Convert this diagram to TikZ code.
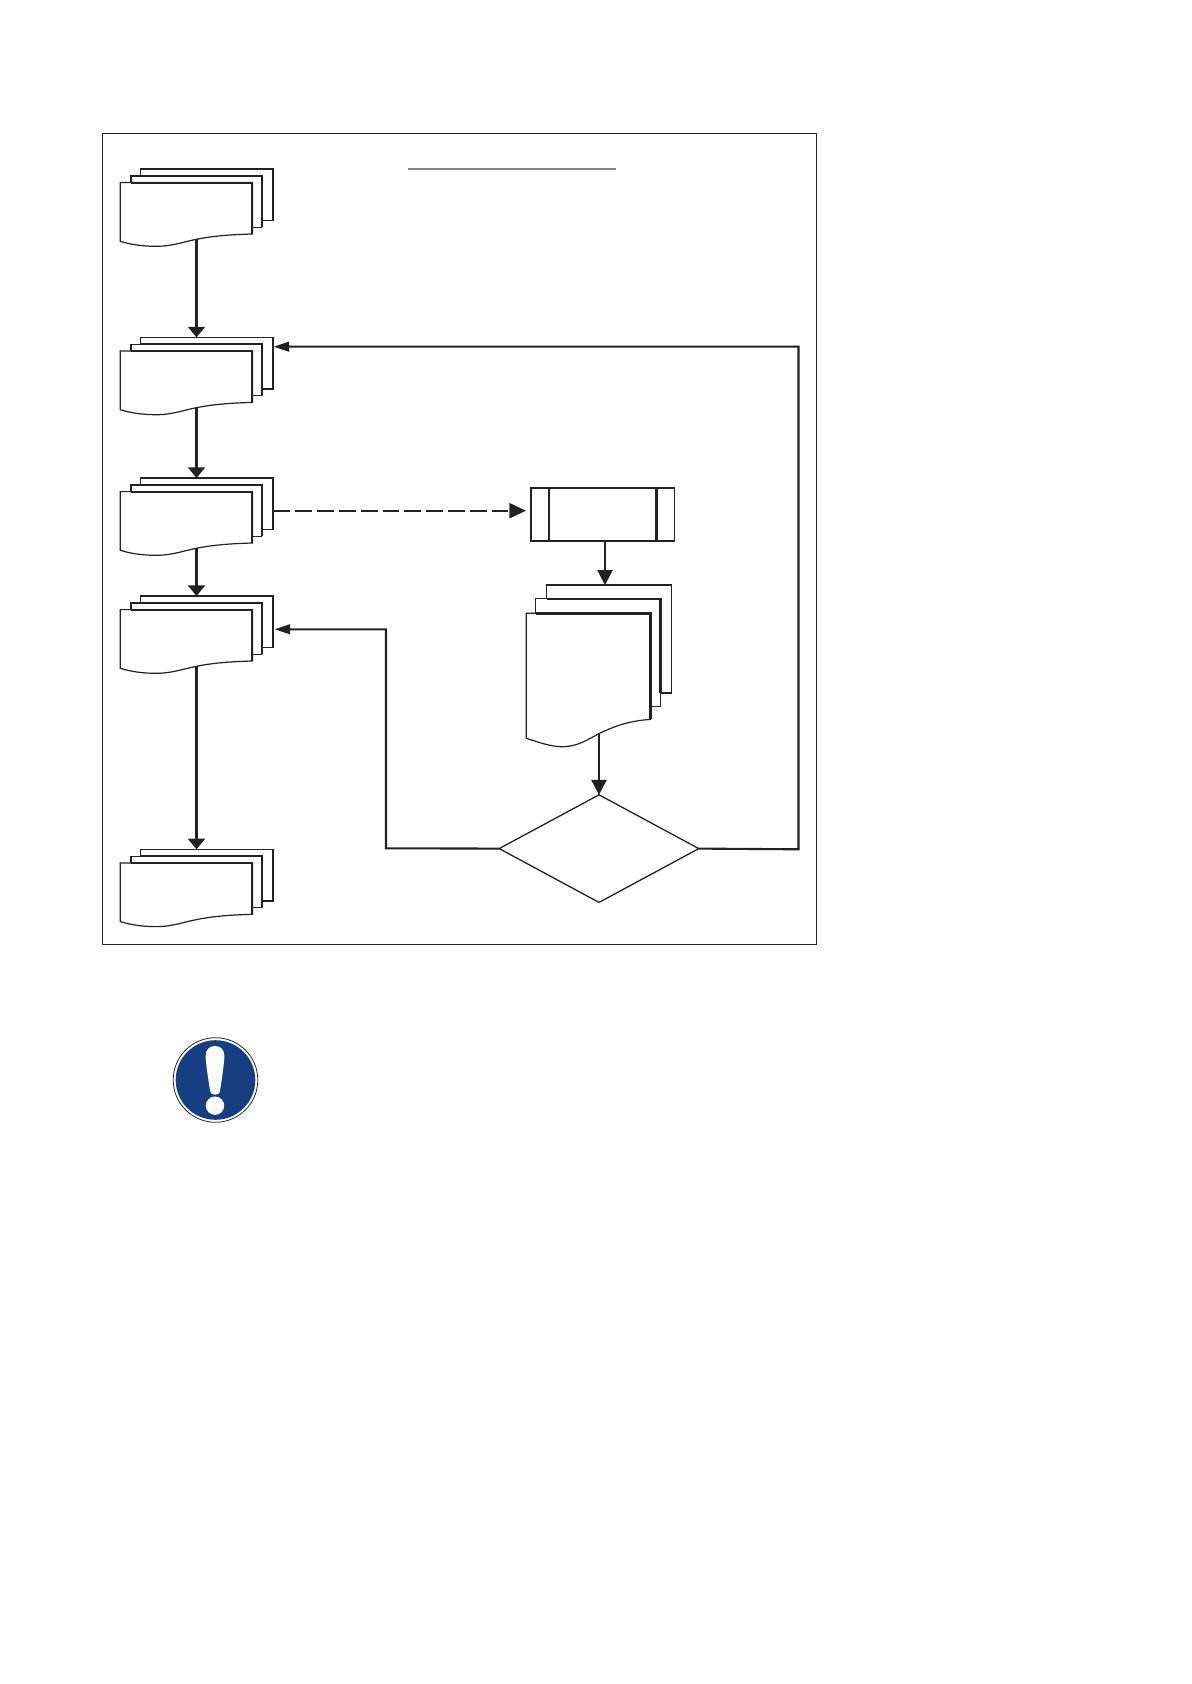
\documentclass[tikz,border=0pt]{standalone}
\usetikzlibrary{arrows.meta,shapes.geometric}
\definecolor{ink}{HTML}{222222}
\definecolor{signblue}{HTML}{163F82}
\newcommand{\smallstack}[2]{%
  \begin{scope}[yshift=-#2*0.5pt]
    \draw[sheet] (140.3,0) rectangle (273,51.6);
    \draw[sheet] (131,7) rectangle (261.8,58.3);
    \draw[heavy] (140.3,7) -- (261.8,7) -- (261.8,58.3);
    \draw[sheet] (120.3,13.6) -- (252.4,13.6) -- (252.4,65)
      .. controls (235,65.5) and (215,66.5) .. (196.5,70.3)
      .. controls (183,73) and (172,77) .. (158.6,77.3)
      .. controls (145,77.5) and (132,76) .. (120.3,72.3) -- cycle;
    \draw[heavy] (131,13.6) -- (252.4,13.6) -- (252.4,65);
    \coordinate (#1top) at (196.5,0);
    \coordinate (#1bot) at (196.5,70.3);
    \coordinate (#1right) at (273,0);
  \end{scope}}
\tikzset{
  x=0.5pt,y=-0.5pt,
  sheet/.style={draw=ink,fill=white,line width=0.6pt},
  heavy/.style={draw=ink,line width=1.05pt},
  frameline/.style={draw=ink,line width=0.5pt},
  link/.style={draw=ink,line width=1.05pt},
  tipv/.style={-{Triangle[length=5.3pt,width=8.5pt]}},
  tiph/.style={-{Triangle[length=7.8pt,width=4.8pt]}},
  tipbig/.style={-{Triangle[length=7.5pt,width=7.6pt]}},
  procbox/.style={draw=ink,line width=0.85pt,fill=white,minimum width=71.7pt,minimum height=26.6pt,inner sep=0pt,outer sep=0pt},
  decision/.style={diamond,draw=ink,fill=white,line width=0.65pt,aspect=1.85,minimum width=99.8pt,minimum height=53.8pt,inner sep=0pt,outer sep=0pt}
}
\begin{document}
\begin{tikzpicture}
\useasboundingbox (0,0) rectangle (1191,1684);
\fill[white] (0,0) rectangle (1191,1684);
\draw[frameline] (102.4,133.6) rectangle (816.6,944.5);
\draw[draw=ink!55,line width=0.8pt] (408,169) -- (616,169);
\smallstack{sa}{169}
\smallstack{sb}{337.4}
\smallstack{sc}{478}
\smallstack{sd}{596}
\smallstack{se}{849.3}
% large stack
\draw[sheet] (546.7,585) rectangle (671.6,693);
\draw[sheet] (535.5,598.7) rectangle (660.5,706.7);
\draw[heavy] (546.7,598.7) -- (660.5,598.7) -- (660.5,693);
\draw[sheet] (526.3,613.3) -- (650.7,613.3) -- (650.7,719.3)
  .. controls (630,721) and (617,725) .. (599.5,733.3)
  .. controls (587,740) and (577,747) .. (561,746.7)
  .. controls (550,746.5) and (538,742) .. (526.3,738.3) -- cycle;
\draw[heavy,line width=1.25pt] (535.5,613.3) -- (650.7,613.3) -- (650.7,719.3);
\coordinate (bigtop) at (605,585);
\coordinate (bigbot) at (599,733.3);
% process
\node[procbox] (proc) at (602.7,514.3) {};
\draw[link] (549,487.7) -- (549,541);
\draw[heavy,line width=1.3pt] (656.5,487.7) -- (656.5,541);
\coordinate (procbot) at (605,541);
\coordinate (procleft) at (526,510.7);
% decision
\node[decision] (dec) at (599,848.6) {};
\coordinate (turnr) at (798.5,849.3);
\coordinate (turnrt) at (798.5,346.7);
\coordinate (sbin) at (273.5,346.7);
\coordinate (turnl) at (386,848.3);
\coordinate (turnlt) at (386,629.3);
\coordinate (sdin) at (274.5,629.3);
\coordinate (scout) at (273.5,510.7);
% connectors
\draw[link,tipv] (sabot) -- (sbtop);
\draw[link,tipv] (sbbot) -- (sctop);
\draw[link,tipv] (scbot) -- (sdtop);
\draw[link,tipv] (sdbot) -- (setop);
\draw[link,tipbig] (procbot) -- (bigtop);
\draw[link,tipbig] (bigbot) -- (dec.north);
\draw[link,tiph] (dec.east) -- (turnr) -- (turnrt) -- (sbin);
\draw[link,tiph] (dec.west) -- (turnl) -- (turnlt) -- (sdin);
\draw[link,dash pattern=on 8.4pt off 2.5pt,-{Triangle[length=8.3pt,width=7.5pt]}] (scout) -- (procleft);
% mandatory sign
\fill[white] (215.5,1080) circle (42.8);
\draw[ink,line width=0.4pt] (215.5,1080) circle (42.3);
\fill[signblue] (215.5,1080) circle (39.8);
\fill[white] (205.6,1056) .. controls (205.6,1049) and (210,1046) .. (215,1046)
  .. controls (220,1046) and (224.4,1049) .. (224.4,1056)
  .. controls (224.4,1062) and (221,1085) .. (219.8,1092)
  .. controls (219.2,1095.5) and (211,1095.5) .. (210.4,1092)
  .. controls (209,1085) and (205.6,1062) .. (205.6,1056) -- cycle;
\fill[white] (215,1105.7) circle (9.2);
\end{tikzpicture}
\end{document}
